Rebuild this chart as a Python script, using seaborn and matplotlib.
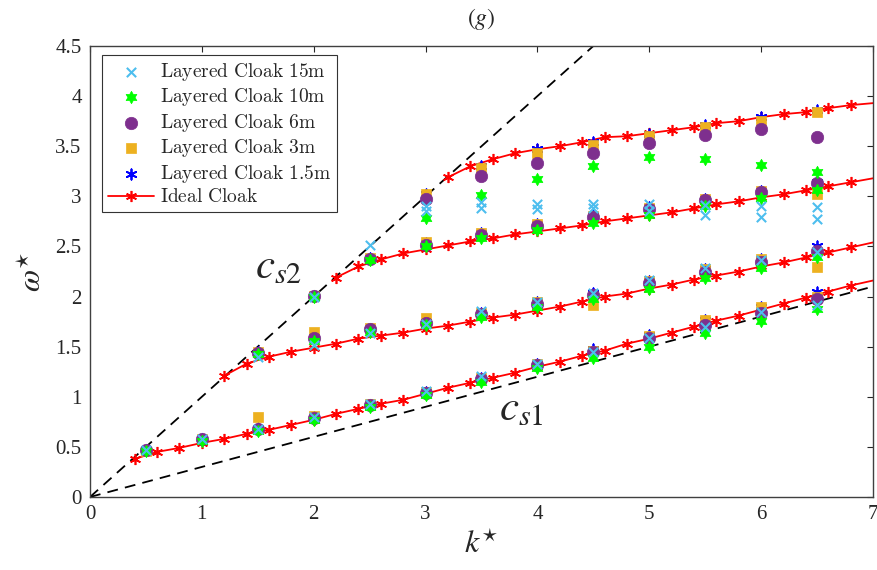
import numpy as np
import pandas as pd
import matplotlib
matplotlib.use("Agg")
import matplotlib.pyplot as plt
import seaborn as sns
from matplotlib.path import Path
from matplotlib.font_manager import FontProperties

# ---------------- data ----------------
K1 = [0.5, 1.0, 1.5, 2.0, 2.5, 3.0, 3.5, 4.0, 4.5, 5.0, 5.5, 6.0, 6.5]
K2 = [1.5, 2.0, 2.5, 3.0, 3.5, 4.0, 4.5, 5.0, 5.5, 6.0, 6.5]
K3 = [2.0, 2.5, 3.0, 3.5, 4.0, 4.5, 5.0, 5.5, 6.0, 6.5]
K4 = [3.0, 3.5, 4.0, 4.5, 5.0, 5.5, 6.0, 6.5]

# Layered Cloak 15m
w15_b1 = [0.47, 0.58, 0.68, 0.80, 0.93, 1.06, 1.21, 1.33, 1.45, 1.59, 1.70, 1.85, 1.92]
w15_b2 = [1.40, 1.52, 1.64, 1.73, 1.86, 1.95, 2.04, 2.17, 2.28, 2.36, 2.44]
k15_b3 = [2.0, 2.5]
w15_b3 = [2.00, 2.51]
k15_up = [3.0, 3.0, 3.5, 3.5, 4.0, 4.0, 4.5, 4.5, 5.0, 5.0, 5.5, 5.5, 6.0, 6.0, 6.5, 6.5]
w15_up = [2.90, 2.85, 2.94, 2.88, 2.92, 2.87, 2.92, 2.88, 2.92, 2.85, 2.91, 2.81, 2.90, 2.79, 2.89, 2.77]

# Layered Cloak 10m
w10_b1 = [0.46, 0.56, 0.66, 0.77, 0.90, 1.02, 1.15, 1.29, 1.39, 1.50, 1.64, 1.76, 1.88]
w10_b2 = [1.43, 1.56, 1.65, 1.72, 1.80, 1.90, 1.98, 2.08, 2.19, 2.28, 2.39]
w10_b3 = [2.00, 2.36, 2.50, 2.58, 2.66, 2.73, 2.81, 2.90, 2.98, 3.06]
w10_b4 = [2.78, 3.01, 3.17, 3.30, 3.39, 3.37, 3.31, 3.24]

# Layered Cloak 6m
w6_b1 = [0.47, 0.58, 0.68, 0.79, 0.92, 1.04, 1.18, 1.32, 1.45, 1.59, 1.72, 1.84, 1.98]
w6_b2 = [1.44, 1.59, 1.68, 1.74, 1.83, 1.93, 2.02, 2.14, 2.25, 2.34, 2.45]
w6_b3 = [2.01, 2.37, 2.51, 2.61, 2.70, 2.79, 2.87, 2.96, 3.04, 3.13]
w6_b4 = [2.97, 3.20, 3.33, 3.43, 3.53, 3.61, 3.67, 3.59]

# Layered Cloak 3m
w3_b1 = [0.46, 0.58, 0.80, 0.81, 0.93, 1.05, 1.19, 1.33, 1.46, 1.61, 1.77, 1.90, 2.00]
w3_b2 = [1.45, 1.65, 1.69, 1.79, 1.84, 1.95, 1.92, 2.16, 2.27, 2.37, 2.29]
w3_b3 = [2.01, 2.38, 2.54, 2.63, 2.72, 2.80, 2.88, 2.97, 3.05, 3.02]
w3_b4 = [3.02, 3.28, 3.43, 3.51, 3.60, 3.69, 3.75, 3.84]

# Layered Cloak 1.5m
w1_b1 = [0.47, 0.58, 0.69, 0.80, 0.92, 1.05, 1.19, 1.33, 1.48, 1.62, 1.77, 1.90, 2.05]
w1_b2 = [1.45, 1.60, 1.68, 1.75, 1.84, 1.95, 2.04, 2.16, 2.27, 2.37, 2.50]
w1_b3 = [2.01, 2.38, 2.53, 2.63, 2.72, 2.81, 2.89, 2.97, 3.05, 3.14]
w1_b4 = [3.02, 3.30, 3.47, 3.54, 3.62, 3.71, 3.79, 3.86]

# Ideal cloak branches
ideal_k1 = [0.4, 0.6, 0.8, 1.0, 1.2, 1.4, 1.6, 1.8, 2.0, 2.2, 2.4, 2.6, 2.8, 3.0, 3.2, 3.4, 3.6,
            3.8, 4.0, 4.2, 4.4, 4.6, 4.8, 5.0, 5.2, 5.4, 5.6, 5.8, 6.0, 6.2, 6.4, 6.6, 6.8, 7.0]
ideal_w1 = [0.38, 0.45, 0.49, 0.54, 0.58, 0.63, 0.67, 0.72, 0.77, 0.83, 0.88, 0.93, 0.97, 1.03,
            1.09, 1.14, 1.19, 1.24, 1.30, 1.35, 1.41, 1.46, 1.53, 1.58, 1.64, 1.70, 1.76, 1.81,
            1.87, 1.93, 1.99, 2.05, 2.11, 2.16]
ideal_k2 = [1.2, 1.4, 1.6, 1.8, 2.0, 2.2, 2.4, 2.6, 2.8, 3.0, 3.2, 3.4, 3.6, 3.8, 4.0, 4.2, 4.4,
            4.6, 4.8, 5.0, 5.2, 5.4, 5.6, 5.8, 6.0, 6.2, 6.4, 6.6, 6.8, 7.0]
ideal_w2 = [1.21, 1.33, 1.40, 1.45, 1.49, 1.53, 1.58, 1.61, 1.64, 1.68, 1.71, 1.75, 1.79, 1.82,
            1.86, 1.90, 1.95, 2.00, 2.03, 2.08, 2.12, 2.17, 2.21, 2.25, 2.30, 2.34, 2.39, 2.44,
            2.49, 2.54]
ideal_k3 = [2.2, 2.4, 2.6, 2.8, 3.0, 3.2, 3.4, 3.6, 3.8, 4.0, 4.2, 4.4, 4.6, 4.8, 5.0, 5.2, 5.4,
            5.6, 5.8, 6.0, 6.2, 6.4, 6.6, 6.8, 7.0]
ideal_w3 = [2.19, 2.30, 2.37, 2.43, 2.47, 2.51, 2.55, 2.58, 2.62, 2.65, 2.68, 2.71, 2.75, 2.78,
            2.81, 2.84, 2.88, 2.92, 2.95, 2.99, 3.02, 3.06, 3.10, 3.14, 3.18]
ideal_k4 = [3.2, 3.4, 3.6, 3.8, 4.0, 4.2, 4.4, 4.6, 4.8, 5.0, 5.2, 5.4, 5.6, 5.8, 6.0, 6.2, 6.4,
            6.6, 6.8, 7.0]
ideal_w4 = [3.19, 3.30, 3.37, 3.43, 3.47, 3.50, 3.54, 3.59, 3.60, 3.63, 3.66, 3.69, 3.73, 3.75,
            3.79, 3.82, 3.84, 3.88, 3.91, 3.93]

# sound-speed lines
cs1_k = [0.0, 7.0]
cs1_w = [0.0, 2.1]
cs2_k = [0.0, 4.5]
cs2_w = [0.0, 4.5]

x_ticks = [0, 1, 2, 3, 4, 5, 6, 7]
y_ticks = [0, 0.5, 1, 1.5, 2, 2.5, 3, 3.5, 4, 4.5]
y_tick_labels = ["0", "0.5", "1", "1.5", "2", "2.5", "3", "3.5", "4", "4.5"]

labels = ["Layered Cloak 15m", "Layered Cloak 10m", "Layered Cloak 6m",
          "Layered Cloak 3m", "Layered Cloak 1.5m", "Ideal Cloak"]

# ---------------- plot ----------------
sns.set_theme(style="white")
plt.rcParams["font.family"] = ["Liberation Serif", "DejaVu Serif"]
plt.rcParams["mathtext.fontset"] = "stix"

fig = plt.figure(figsize=(8.78, 5.70), dpi=100)
ax = fig.add_axes([90 / 878, 1 - 497 / 570, 783 / 878, 451 / 570])

# hexagram marker
ang = np.deg2rad(90 + 30 * np.arange(12))
rad = np.where(np.arange(12) % 2 == 0, 1.0, 1 / np.sqrt(3))
verts = np.column_stack([rad * np.cos(ang), rad * np.sin(ang)])
verts = np.vstack([verts, verts[:1]])
hexagram = Path(verts, [Path.MOVETO] + [Path.LINETO] * 11 + [Path.CLOSEPOLY])

red = "#FF0000"
ast = (6, 2, 0)

# dashed sound lines
sns.lineplot(x=cs1_k, y=cs1_w, ax=ax, color="black", lw=1.3, linestyle=(0, (6, 4)))
sns.lineplot(x=cs2_k, y=cs2_w, ax=ax, color="black", lw=1.3, linestyle=(0, (6, 4)))

# ideal cloak
for i, (kk, ww) in enumerate([(ideal_k1, ideal_w1), (ideal_k2, ideal_w2),
                              (ideal_k3, ideal_w3), (ideal_k4, ideal_w4)]):
    sns.lineplot(x=kk, y=ww, ax=ax, color=red, lw=1.3, marker=ast, markersize=8,
                 markeredgewidth=1.2, markeredgecolor=red, sort=False, estimator=None,
                 markevery=slice(0, len(kk) - 1), label=labels[5] if i == 0 else None,
                 legend=False, zorder=2)

def scat(k, w, **kw):
    df = pd.DataFrame({"k": k, "w": w})
    return sns.scatterplot(data=df, x="k", y="w", ax=ax, legend=False, **kw)

# 1.5m
scat(K1 + K2 + K3 + K4, w1_b1 + w1_b2 + w1_b3 + w1_b4, marker=ast, s=55,
     color="#0000FF", linewidth=1.3, zorder=3, label=labels[4])
# 3m
scat(K1 + K2 + K3 + K4, w3_b1 + w3_b2 + w3_b3 + w3_b4, marker="s", s=60,
     color="#EDB120", edgecolor="#EDB120", linewidth=0.5, zorder=4, label=labels[3])
# 6m
scat(K1 + K2 + K3 + K4, w6_b1 + w6_b2 + w6_b3 + w6_b4, marker="o", s=80,
     color="#7E2F8E", edgecolor="#7E2F8E", linewidth=0.5, zorder=5, label=labels[2])
# 10m
scat(K1 + K2 + K3 + K4, w10_b1 + w10_b2 + w10_b3 + w10_b4, marker=hexagram, s=80,
     color="#00FF00", edgecolor="#00FF00", linewidth=0.5, zorder=6, label=labels[1])
# 15m
scat(K1 + K2 + k15_b3 + k15_up, w15_b1 + w15_b2 + w15_b3 + w15_up, marker="x", s=45,
     color="#4DBEEE", linewidth=1.5, zorder=7, label=labels[0])

# axes styling
ax.set_xlim(0, 7)
ax.set_ylim(0, 4.5)
ax.set_xticks(x_ticks)
ax.set_xticklabels([str(t) for t in x_ticks])
ax.set_yticks(y_ticks)
ax.set_yticklabels(y_tick_labels)
ax.tick_params(direction="in", length=4, width=0.8, top=True, right=True,
               labelsize=15, colors="#262626", pad=6)
for sp in ax.spines.values():
    sp.set_color("#404040")
    sp.set_linewidth(1.0)
ax.set_xlabel(r"$k^{\star}$", fontsize=23, labelpad=5)
ax.set_ylabel(r"$\omega^{\star}$", fontsize=23, labelpad=5)
ax.set_title(r"$(g)$", fontsize=17, pad=15)

ax.text(1.69, 2.28, r"$c_{s2}$", fontsize=31, ha="center", va="center")
ax.text(3.86, 0.87, r"$c_{s1}$", fontsize=31, ha="center", va="center")

handles, labs = ax.get_legend_handles_labels()
hmap = dict(zip(labs, handles))
leg_labels = [r"$\mathrm{Layered\ Cloak\ 15m}$", r"$\mathrm{Layered\ Cloak\ 10m}$",
              r"$\mathrm{Layered\ Cloak\ 6m}$", r"$\mathrm{Layered\ Cloak\ 3m}$",
              r"$\mathrm{Layered\ Cloak\ 1.5m}$", r"$\mathrm{Ideal\ Cloak}$"]
fp = FontProperties(size=14, math_fontfamily="cm")
leg = ax.legend([hmap[l] for l in labels], leg_labels, loc="upper left",
                bbox_to_anchor=(0.0153, 0.98), borderaxespad=0, prop=fp,
                frameon=True, fancybox=False, edgecolor="#333333", framealpha=1,
                handlelength=2.4, labelspacing=0.18, borderpad=0.3, handletextpad=0.3)
leg.get_frame().set_linewidth(0.8)

fig.savefig("out.png", dpi=100)
